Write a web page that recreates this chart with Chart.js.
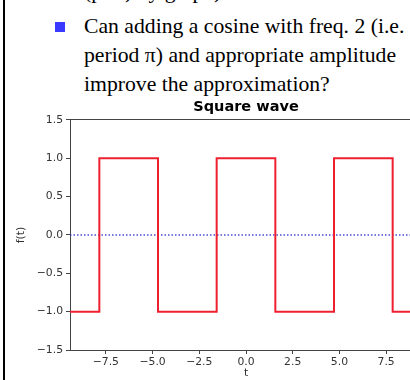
<!DOCTYPE html>
<html>
<head>
<meta charset="utf-8">
<script src="https://cdn.jsdelivr.net/npm/chart.js@4"></script>
<style>
  html, body { margin: 0; padding: 0; width: 410px; height: 380px; overflow: hidden; background: #fff; }
  #frame { position: absolute; left: 3px; top: 0; width: 2px; height: 380px; background: #000; }
  .slide { position: absolute; left: 84px; font-family: "Liberation Serif", serif; font-size: 21.7px; color: #000; white-space: nowrap; line-height: 29px; }
  #bullet { position: absolute; left: 55px; top: 22px; width: 10px; height: 10px; background: #3a3aff; }
  #wrap { position: absolute; left: 0; top: 0; width: 460px; height: 380px; }
</style>
</head>
<body>
<div id="frame"></div>
<div class="slide" style="top:-23px">(plot) by graph)</div>
<div id="bullet"></div>
<div class="slide" style="top:12px">Can adding a cosine with freq. 2 (i.e.<br>period π) and appropriate amplitude<br>improve the approximation?</div>
<div id="wrap"><canvas id="onda" width="460" height="380"></canvas></div>
<script>
const ondaCTX = document.getElementById('onda').getContext('2d');

// square wave: jump points and the level after each one
const tempos = [-9.42, -7.85, -4.71, -1.57, 1.57, 4.71, 7.85, 9.42];
const valores = [-1, 1, -1, 1, -1, 1, -1, -1];
const zeroTempos = [-9.42, 9.42];
const zeroValores = [0, 0];
const yTicks = [-1.5, -1.0, -0.5, 0.0, 0.5, 1.0, 1.5];
const xTicks = [-7.5, -5.0, -2.5, 0.0, 2.5, 5.0, 7.5];

function rotulo(v){
    return (v < 0 ? '\u2212' : '') + Math.abs(v).toFixed(1);
}

function criarGrafico(){
    // stepped 'before': keeps the previous level up to each point, then jumps
    const onda = tempos.map((t, i) => ({x: t, y: valores[i]}));
    const zero = zeroTempos.map((t, i) => ({x: t, y: zeroValores[i]}));
    const fonte = {family: 'DejaVu Sans', size: 10.8};

    new Chart(ondaCTX, {
        type: 'line',
        data: {
            datasets: [{
                data: onda,
                stepped: 'before',
                borderColor: '#ee2030',
                borderWidth: 2,
                pointRadius: 0,
                fill: false
            }, {
                data: zero,
                borderColor: 'rgba(55,55,210,0.9)',
                borderWidth: 1.6,
                borderDash: [1.5, 2],
                pointRadius: 0,
                fill: false
            }]
        },
        options: {
            responsive: false,
            animation: false,
            events: [],
            layout: {
                padding: { left: 0, right: 38, top: 99, bottom: 0 }
            },
            plugins: {
                legend: { display: false },
                tooltip: { enabled: false },
                title: {
                    display: true,
                    text: 'Square wave',
                    fullSize: false,
                    color: '#000',
                    font: { family: 'DejaVu Sans', size: 14.5, weight: 'bold' },
                    padding: { top: 0, bottom: 3.5 }
                }
            },
            scales: {
                x: {
                    type: 'linear',
                    min: -9.42,
                    max: 9.42,
                    afterFit: (s) => { s.height = 30; },
                    afterBuildTicks: (s) => { s.ticks = xTicks.map(v => ({value: v})); },
                    ticks: {
                        callback: rotulo,
                        color: '#333',
                        font: fonte,
                        padding: 2,
                        maxRotation: 0,
                        autoSkip: false
                    },
                    grid: { drawOnChartArea: false, tickLength: 4, color: '#444' },
                    border: { color: '#444', width: 1 },
                    title: { display: true, text: 't', color: '#333', font: fonte, padding: { top: 0, bottom: 0 } }
                },
                x2: {
                    type: 'linear',
                    position: 'top',
                    min: -9.42,
                    max: 9.42,
                    afterFit: (s) => { s.height = 0; },
                    ticks: { display: false },
                    grid: { display: false },
                    border: { display: true, color: '#444', width: 1 }
                },
                y: {
                    min: -1.5,
                    max: 1.5,
                    afterFit: (s) => { s.width = 70; },
                    afterBuildTicks: (s) => { s.ticks = yTicks.map(v => ({value: v})); },
                    ticks: {
                        callback: rotulo,
                        color: '#333',
                        font: fonte,
                        padding: 3
                    },
                    grid: { drawOnChartArea: false, tickLength: 4, color: '#444' },
                    border: { color: '#444', width: 1 },
                    title: { display: true, text: 'f(t)', color: '#333', font: fonte, padding: { top: 15, bottom: 0 } }
                }
            }
        }
    });
}

criarGrafico()
</script>
</body>
</html>
